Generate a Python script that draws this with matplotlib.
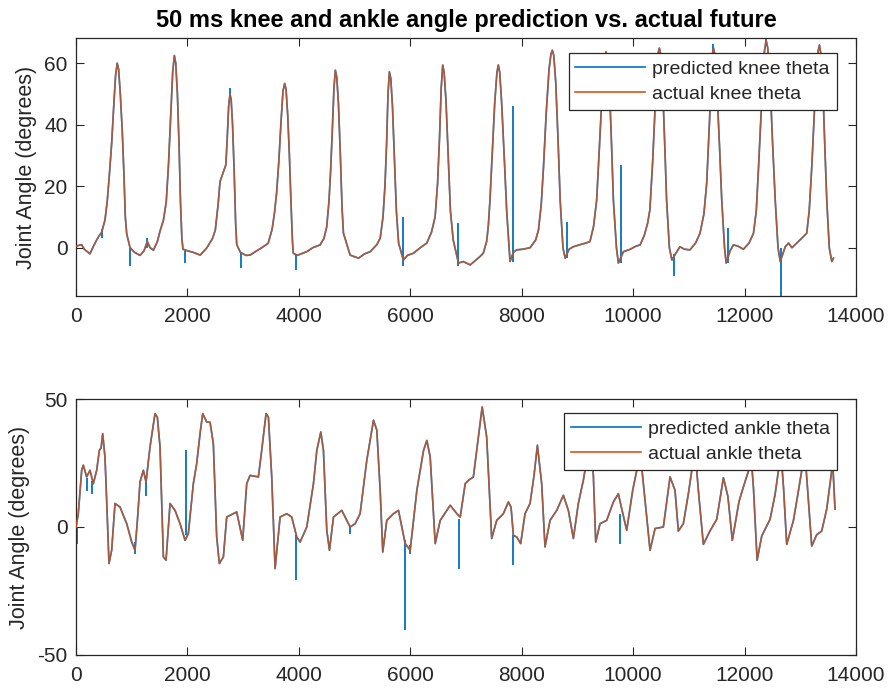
import numpy as np
import matplotlib
matplotlib.use("Agg")
import matplotlib.pyplot as plt

plt.rcParams['font.family'] = ['Liberation Sans', 'DejaVu Sans']
plt.rcParams['axes.unicode_minus'] = False

# ---------------- data ----------------
title = "50 ms knee and ankle angle prediction vs. actual future"
ylabel = "Joint Angle (degrees)"
xticks = [0, 2000, 4000, 6000, 8000, 10000, 12000, 14000]
knee_yticks = [0, 20, 40, 60]
ankle_yticks = [-50, 0, 50]

knee_x = [0, 100, 150, 250, 300, 370, 420, 460, 520, 560, 600, 640, 680, 710, 740, 765, 795, 830, 860, 885, 910, 970,
          1050, 1150, 1220, 1280, 1330, 1390, 1460, 1510, 1570, 1620, 1660, 1700, 1735, 1765, 1790, 1820, 1850, 1875,
          1900, 1920, 2000, 2100, 2230, 2350, 2450, 2500, 2550, 2585, 2645, 2690, 2715, 2740, 2764, 2785, 2810, 2840,
          2865, 2885, 2950, 3050, 3125, 3200, 3300, 3400, 3450, 3520, 3560, 3600, 3640, 3680, 3715, 3745, 3770, 3800,
          3830, 3860, 3885, 3900, 3970, 4140, 4250, 4380, 4450, 4500, 4540, 4570, 4600, 4630, 4655, 4680, 4710, 4745,
          4775, 4800, 4920, 5070, 5180, 5280, 5400, 5460, 5510, 5545, 5575, 5600, 5625, 5650, 5680, 5715, 5750, 5790,
          5875, 5950, 6055, 6180, 6295, 6380, 6445, 6490, 6525, 6555, 6582, 6607, 6640, 6680, 6720, 6770, 6865, 6950,
          7075, 7180, 7250, 7310, 7370, 7400, 7430, 7470, 7515, 7555, 7580, 7605, 7640, 7690, 7730, 7790, 7850, 7910,
          8020, 8150, 8250, 8300, 8350, 8390, 8440, 8490, 8525, 8550, 8575, 8610, 8650, 8690, 8740, 8780, 8850, 8925,
          9050, 9150, 9225, 9290, 9345, 9395, 9450, 9488, 9513, 9538, 9575, 9615, 9645, 9700, 9735, 9825, 9950, 10050,
          10125, 10200, 10260, 10300, 10350, 10400, 10445, 10470, 10495, 10530, 10570, 10600, 10650, 10695, 10760,
          10840, 10920, 11020, 11120, 11200, 11270, 11320, 11370, 11415, 11440, 11465, 11500, 11550, 11590, 11640,
          11670, 11740, 11800, 11880, 11980, 12080, 12160, 12210, 12250, 12300, 12350, 12386, 12415, 12455, 12500,
          12550, 12600, 12640, 12730, 12790, 12850, 12965, 13050, 13115, 13160, 13205, 13260, 13310, 13343, 13370,
          13405, 13440, 13475, 13520, 13565, 13595]
knee_y = [0.5, 1, -0.5, -2, 0, 2.5, 4, 5, 9, 15, 24, 34, 47, 56, 60, 58, 50, 38, 24, 10, 4.5, 0,
          -1.5, -2.5, -1, 2, 0, -0.8, 2, 5.5, 9, 15, 27, 43, 57, 62.5, 60, 50, 33, 15,
          3, -0.5, -1, -1.5, -2.4, 0, 3, 5.7, 14, 21.5, 24.7, 27, 36, 46, 50, 48, 40, 24,
          8, 1, -1.5, -2.5, -2.4, -1.5, -0.4, 0.8, 1.5, 6, 11, 17.7, 28, 41, 51, 53.4, 51.5, 43,
          30, 14, 2, -1.8, -2.5, -1.3, 0, 0.9, 3, 6.8, 15, 25, 38, 52, 57.7, 55.5, 47, 30,
          13, 4.7, -2.4, -3.4, -2, -1.3, 1, 3.1, 10, 20, 34, 50, 57.2, 55, 46, 29, 12, 1.5,
          -4, -2.5, -1.8, 0, 1.5, 5, 10, 21, 36, 52, 59.4, 57, 48, 30, 12, 2.5, -5, -4.5,
          -5.6, -4, -2.9, -1.8, 2, 7, 15.5, 30, 47, 57, 59.4, 57, 47, 28, 12, -4.5, -1.5, -0.7,
          -0.5, 0, 2.5, 5.7, 14, 26, 44, 58, 63, 64.2, 62.5, 54, 36, 15.5, 0, -3.4, -0.5, 0.3,
          1, 1.5, 2, 7, 15.5, 33, 53, 62, 63.7, 62, 52, 32, 15.5, 0, -5, -1.3, -0.5, 0.5,
          0.9, 4, 8, 12.3, 28, 48, 63, 64.9, 63, 52, 32, 15.5, 0, -4, -2,
          0.3, -0.5, -0.7, 1.5, 4.7, 11, 21, 41, 62, 65, 63, 53, 33, 15.5, 0,
          -5, -1, 0.9, 0.5, -0.5, 1.5, 4.7, 12, 26, 45, 63, 67.5, 65, 55, 35,
          15.5, 0, -4.5, 0.3, 1.5, 0, 2, 3.5, 4.7, 12, 26, 47, 63, 65.9, 63,
          52, 33, 15.5, 0, -4.5, -3.4]

# prediction glitches: position, low end, high end
knee_spike_x = [460, 970, 1280, 1960, 2764, 2960, 3940, 5875, 6865, 7840, 8810, 9775, 10735, 11440, 11700, 12386, 12655]
knee_spike_lo = [3, -6, 0, -5, 49, -6.6, -7.2, -6, -6, -4.5, -3.4, -5, -9.2, 63, -5, 66, -15.7]
knee_spike_hi = [6, 0, 3, -1, 52, -1.5, -2, 10, 8, 46, 8.5, 27, -2, 66.4, 6.5, 68.2, 0]

ankle_x = [0, 40, 102, 131, 191, 251, 311, 371, 419, 450, 479, 520, 550, 592, 640, 700, 790, 910, 1000, 1059,
           1100, 1149, 1209, 1257, 1328, 1418, 1460, 1508, 1568, 1616, 1688, 1777, 1867, 1957, 2016, 2106, 2166,
           2226, 2274, 2346, 2406, 2465, 2525, 2573, 2645, 2705, 2824, 2884, 2992, 3064, 3124, 3273, 3333, 3411,
           3453, 3513, 3573, 3663, 3782, 3872, 3962, 4022, 4142, 4262, 4322, 4394, 4441, 4501, 4549, 4621, 4770,
           4920, 5010, 5099, 5219, 5339, 5399, 5459, 5506, 5578, 5698, 5788, 5908, 5998, 6118, 6238, 6297, 6357,
           6447, 6537, 6716, 6836, 6896, 6986, 7046, 7132, 7192, 7290, 7371, 7461, 7551, 7670, 7760, 7808, 7850,
           7910, 7981, 8059, 8149, 8220, 8281, 8358, 8418, 8508, 8628, 8747, 8837, 8927, 9016, 9106, 9196, 9240,
           9286, 9328, 9405, 9525, 9645, 9734, 9794, 9884, 9992, 10063, 10110, 10160, 10303, 10393, 10542, 10662,
           10751, 10811, 10901, 10991, 11051, 11110, 11180, 11260, 11380, 11500, 11620, 11700, 11780, 11900, 11990,
           12068, 12110, 12160, 12225, 12308, 12457, 12547, 12607, 12650, 12700, 12756, 12876, 12950, 13025, 13080,
           13130, 13205, 13295, 13384, 13474, 13534, 13582, 13623]
ankle_y = [0, 5, 22.2, 24.2, 19.6, 22.2, 17, 22.2, 30, 31, 36.5, 27.4, 10.5, -14.3, -9.1, 9.2, 7.8, 1.3, -5.9, -9.1,
           2, 17.6, 22.2, 17.6, 31.3, 44.4, 43, 31.3, -11.7, -13, 9.2, 6.5, 1.3, -5.2, -2.6, 17, 24.8,
           36.5, 44.4, 41.1, 41, 32.6, -3.9, -14.3, -11.7, 3.9, 5.2, 5.9, -5.2, 17, 20.2, 19.6, 30, 44.4,
           43, 19.6, -16.3, 3.9, 5.2, 3.9, -3.9, -5.9, 0, 17, 30, 37.2, 30, -1.3, -9.1, 3.9, 6.5,
           0, 1.3, 5.2, 26.1, 41.8, 37.9, 14.4, -9.8, 2.6, 5.2, 6.5, -6.5, -9.1, 14.4, 30, 33.9, 27.4,
           -6.5, 2.6, 8.5, 5.2, 3.9, 17, 18.3, 19.6, 30, 47, 35.2, -4.5, 2.6, 5.2, 9.8, 7.8, -3.3,
           -3.9, -6.5, 5.2, 9.2, 20, 32, 17, -7.8, 2.6, 6.5, 12.4, 6.5, -4.5, 9.2, 18.3, 30, 33,
           20, -5.9, 1.3, 2.6, 9.8, 13, 7.2, -1.3, 14.4, 22, 32, 22, -9.1, -0.6, 0, 19.6,
           14.4, -1.6, 1.3, 13, 22, 30, 12, -6.8, -1.5, 3, 19.3, 12, -5.2, 10, 16.5,
           21.8, 30, 15, -13, -3.5, 3, 12.7, 22, 30, 15, -6.8, 2.5, 12, 22, 30,
           15, -7.5, -3, -1.6, 7, 17, 25, 7]

ankle_spike_x = [10, 191, 280, 1059, 1265, 1975, 3944, 4920, 5896, 5998, 6866, 7838, 9764]
ankle_spike_lo = [-6.5, 14, 13, -10.5, 12, -3, -20.9, -2.6, -40.4, -10.5, -16.3, -15, -6.5]
ankle_spike_hi = [0, 19, 18, -6, 18, 30, -3, 0, -5, -7, 3, -3, 5]

assert len(knee_x) == len(knee_y) and len(ankle_x) == len(ankle_y)

# ---------------- drawing ----------------
BLUE = '#0072BD'
ORANGE = '#D95319'
AX_COL = '#262626'

fig = plt.figure(figsize=(8.89, 6.92), dpi=100)
ax1 = fig.add_axes([0.0855, 0.5723, 0.8774, 0.3728])
ax2 = fig.add_axes([0.0855, 0.0539, 0.8774, 0.3691])

panels = [
    (ax1, knee_x, knee_y, knee_spike_x, knee_spike_lo, knee_spike_hi,
     'predicted knee theta', 'actual knee theta', (-15.7, 68.2), knee_yticks, 0.941),
    (ax2, ankle_x, ankle_y, ankle_spike_x, ankle_spike_lo, ankle_spike_hi,
     'predicted ankle theta', 'actual ankle theta', (-50, 50), ankle_yticks, 0.945),
]

for ax, xs, ys, sx, slo, shi, lab_p, lab_a, ylim, yt, legtop in panels:
    hp, = ax.plot(xs, ys, color=BLUE, lw=1.2, label=lab_p, zorder=2)
    ax.vlines(sx, slo, shi, color=BLUE, lw=1.3, zorder=2)
    ha, = ax.plot(xs, ys, color=ORANGE, lw=1.2, alpha=0.75, label=lab_a, zorder=3)
    ax.set_xlim(0, 14000)
    ax.set_ylim(*ylim)
    ax.set_xticks(xticks)
    ax.set_yticks(yt)
    ax.tick_params(direction='in', top=True, right=True, length=6, width=0.8,
                   labelsize=15, colors=AX_COL, pad=8)
    ax.tick_params(axis='y', pad=6)
    for s in ax.spines.values():
        s.set_color(AX_COL)
        s.set_linewidth(0.9)
    ax.set_ylabel(ylabel, fontsize=15.5, color=AX_COL, labelpad=5)
    leg = ax.legend(handles=[hp, ha], loc='upper right', bbox_to_anchor=(0.975, legtop),
                    fontsize=14, handlelength=3.6, handletextpad=0.35, borderpad=0.35,
                    labelspacing=0.4, fancybox=False, framealpha=1, borderaxespad=0)
    leg.get_frame().set_edgecolor(AX_COL)
    leg.get_frame().set_linewidth(0.9)
    leg.set_zorder(10)
    for t in leg.get_texts():
        t.set_color(AX_COL)
    for l in leg.get_lines():
        l.set_alpha(1)
        l.set_linewidth(1.2)

ax1.set_title(title, fontsize=17, fontweight='bold', color='black', pad=8)

fig.savefig('out.png', dpi=100)
